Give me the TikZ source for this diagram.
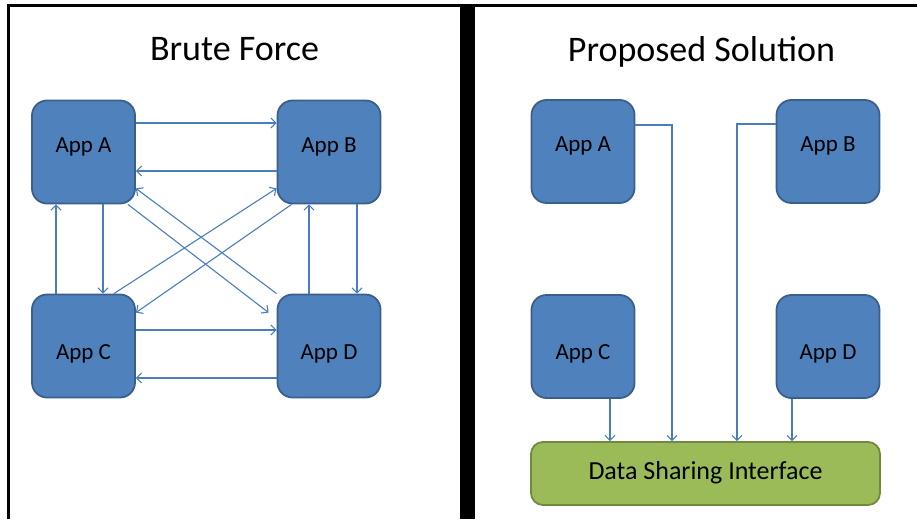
\documentclass[tikz,border=0pt]{standalone}
\usepackage{fontspec}
\setmainfont{Carlito}
\usetikzlibrary{arrows.meta}
\definecolor{appfill}{HTML}{4F81BD}
\definecolor{appedge}{HTML}{3A5F8B}
\definecolor{linkblue}{HTML}{4A7EBB}
\definecolor{dsifill}{HTML}{9BBB59}
\definecolor{dsiedge}{HTML}{71893F}
\tikzset{
  appbox/.style={draw=appedge, fill=appfill, line width=1.8pt, rounded corners=15pt,
    minimum width=103pt, minimum height=103pt, inner sep=0pt,
    font=\fontsize{23}{23}\selectfont},
  apptop/.style={appbox, text height=15pt, text depth=15pt},
  appbot/.style={appbox, text height=28pt, text depth=2pt},
  dsibox/.style={draw=dsiedge, fill=dsifill, line width=1.8pt, rounded corners=12pt,
    minimum width=349pt, minimum height=63pt, inner sep=0pt,
    text height=20pt, text depth=9pt, font=\fontsize{26}{26}\selectfont},
  link/.style={draw=linkblue, line width=1.1pt, -{Straight Barb[length=5pt,width=10pt]}},
  heading/.style={anchor=base, font=\fontsize{36}{36}\selectfont, inner sep=0pt}
}
\begin{document}
\begin{tikzpicture}[x=1pt, y=-1pt]
  \useasboundingbox (0,0) rectangle (917,519);
  % frame and divider
  \draw[line width=3pt] (8.5,519) -- (8.5,5.5) -- (917,5.5);
  \fill (460,4) rectangle (475,519);

  % headings
  \node[heading] (t1) at (234.5,60) {Brute Force};
  \node[heading] (t2) at (701.5,61) {Proposed Solution};

  % left panel: every application talks to every other
  \node[apptop] (A) at (83.5,152) {App A};
  \node[apptop] (B) at (329,152) {App B};
  \node[appbot] (C) at (83.5,346) {App C};
  \node[appbot] (D) at (329,346) {App D};

  \draw[link] ([yshift=29pt]A.east) -- ([yshift=29pt]B.west);
  \draw[link] ([yshift=-19pt]B.west) -- ([yshift=-19pt]A.east);
  \draw[link] ([yshift=16pt]C.east) -- ([yshift=16pt]D.west);
  \draw[link] ([yshift=-32pt]D.west) -- ([yshift=-32pt]C.east);
  \draw[link] ([xshift=19.5pt]A.south) -- ([xshift=19.5pt]C.north);
  \draw[link] ([xshift=-27.5pt]C.north) -- ([xshift=-27.5pt]A.south);
  \draw[link] ([xshift=28pt]B.south) -- ([xshift=28pt]D.north);
  \draw[link] ([xshift=-20pt]D.north) -- ([xshift=-20pt]B.south);
  \draw[link] ([xshift=-8pt]A.south east) -- ([xshift=-8pt,yshift=-19pt]D.north west);
  \draw[link] (D.north west) -- ([yshift=16pt]A.south east);
  \draw[link] ([xshift=-22pt]C.north east) -- ([yshift=16pt]B.south west);
  \draw[link] ([xshift=15pt]B.south west) -- ([yshift=-19pt]C.north east);

  % right panel: all applications go through one interface
  \node[apptop] (A2) at (583,151.5) {App A};
  \node[apptop] (B2) at (828,151.5) {App B};
  \node[appbot] (C2) at (583,346.5) {App C};
  \node[appbot] (D2) at (828,346.5) {App D};
  \node[dsibox] (DSI) at (705.5,473.5) {Data Sharing Interface};

  \draw[link] ([yshift=26.5pt]A2.east) -| ([xshift=-33.5pt]DSI.north);
  \draw[link] ([yshift=27.5pt]B2.west) -| ([xshift=31.5pt]DSI.north);
  \draw[link] ([xshift=27pt]C2.south) -- ([xshift=27pt]C2.south |- DSI.north);
  \draw[link] ([xshift=-36pt]D2.south) -- ([xshift=-36pt]D2.south |- DSI.north);
\end{tikzpicture}
\end{document}
